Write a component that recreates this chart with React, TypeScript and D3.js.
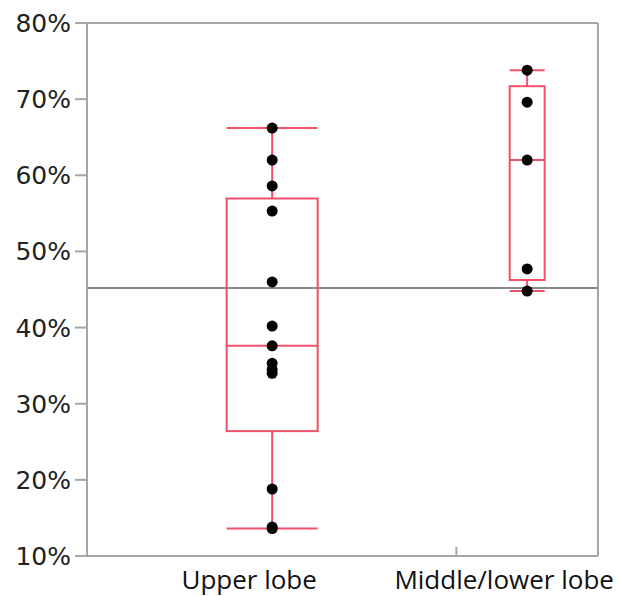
import React from "react";
import * as d3 from "d3";

// categories and observed values (percent)
const groups = ["Upper lobe", "Middle/lower lobe"];
const upperLobe = [66.2, 62.0, 58.6, 55.3, 46.0, 40.2, 37.6, 35.3, 34.5, 34.0, 18.8, 13.8, 13.6];
const middleLowerLobe = [73.8, 69.6, 62.0, 47.7, 44.8];
const yTicks = [10, 20, 30, 40, 50, 60, 70, 80];

const W = 619;
const H = 596;
const left = 87;
const right = 598;
const top = 23;
const bottom = 556;

const boxColor = "#f0506a";
const axisColor = "#a6a6a6";

// (n+1)p quantile, the way the original tool places the box
function quant(sorted: number[], p: number) {
  const pos = (sorted.length + 1) * p;
  const lo = Math.max(1, Math.min(sorted.length, Math.floor(pos)));
  const hi = Math.max(1, Math.min(sorted.length, Math.ceil(pos)));
  const frac = pos - Math.floor(pos);
  return sorted[lo - 1] + (sorted[hi - 1] - sorted[lo - 1]) * frac;
}

export default function App() {
  const series = [upperLobe, middleLowerLobe];
  const counts = series.map((s) => s.length);
  const total = d3.sum(counts);

  const y = d3.scaleLinear().domain([10, 80]).range([bottom, top]);
  // group widths proportional to sample size
  const x = d3.scaleLinear().domain([0, total]).range([left + 1, right]);
  const starts = counts.map((_, i) => d3.sum(counts.slice(0, i)));

  const grandMean = d3.mean(series.flat()) as number;

  return (
    <svg width={W} height={H} style={{ position: "absolute", left: 0, top: 0, background: "#fff" }}>
      {/* frame */}
      <line x1={left} x2={right} y1={top} y2={top} stroke={axisColor} strokeWidth={2} />
      <line x1={right} x2={right} y1={top} y2={bottom} stroke={axisColor} strokeWidth={2} />
      <line x1={left} x2={left} y1={top} y2={bottom} stroke={axisColor} strokeWidth={2} />
      <line x1={left} x2={right} y1={bottom} y2={bottom} stroke={axisColor} strokeWidth={2} />

      {/* y axis ticks */}
      {yTicks.map((t) => (
        <g key={t}>
          <line x1={left - 12} x2={left} y1={y(t)} y2={y(t)} stroke={axisColor} strokeWidth={2} />
          <text
            x={left - 16}
            y={y(t) + 9}
            textAnchor="end"
            fontFamily="DejaVu Sans"
            fontSize={25}
            fill="#222"
          >
            {t}%
          </text>
        </g>
      ))}

      {/* group separator tick */}
      {starts.slice(1).map((s, i) => (
        <line key={i} x1={x(s)} x2={x(s)} y1={bottom - 9} y2={bottom} stroke={axisColor} strokeWidth={2} />
      ))}

      {/* grand mean line */}
      <line x1={left} x2={right} y1={y(grandMean)} y2={y(grandMean)} stroke="#8a8a8a" strokeWidth={2} />

      {series.map((vals, i) => {
        const sorted = vals.slice().sort((a, b) => a - b);
        const cx = x(starts[i] + counts[i] / 2);
        const q1 = quant(sorted, 0.25);
        const med = quant(sorted, 0.5);
        const q3 = quant(sorted, 0.75);
        const lo = sorted[0];
        const hi = sorted[sorted.length - 1];
        const bw = counts[i] * 7;
        const cw = counts[i] * 7;
        return (
          <g key={groups[i]}>
            <line x1={cx} x2={cx} y1={y(hi)} y2={y(q3)} stroke={boxColor} strokeWidth={2} />
            <line x1={cx} x2={cx} y1={y(q1)} y2={y(lo)} stroke={boxColor} strokeWidth={2} />
            <line x1={cx - cw / 2} x2={cx + cw / 2} y1={y(hi)} y2={y(hi)} stroke={boxColor} strokeWidth={2} />
            <line x1={cx - cw / 2} x2={cx + cw / 2} y1={y(lo)} y2={y(lo)} stroke={boxColor} strokeWidth={2} />
            <rect
              x={cx - bw / 2}
              y={y(q3)}
              width={bw}
              height={y(q1) - y(q3)}
              fill="none"
              stroke={boxColor}
              strokeWidth={2}
            />
            <line x1={cx - bw / 2} x2={cx + bw / 2} y1={y(med)} y2={y(med)} stroke={boxColor} strokeWidth={2} />
            {vals.map((v, j) => (
              <circle key={j} cx={cx} cy={y(v)} r={5.5} fill="#000" />
            ))}
            <text
              x={cx - 23}
              y={589}
              textAnchor="middle"
              fontFamily="Open Sans"
              fontSize={26}
              fill="#111"
            >
              {groups[i]}
            </text>
          </g>
        );
      })}
    </svg>
  );
}
